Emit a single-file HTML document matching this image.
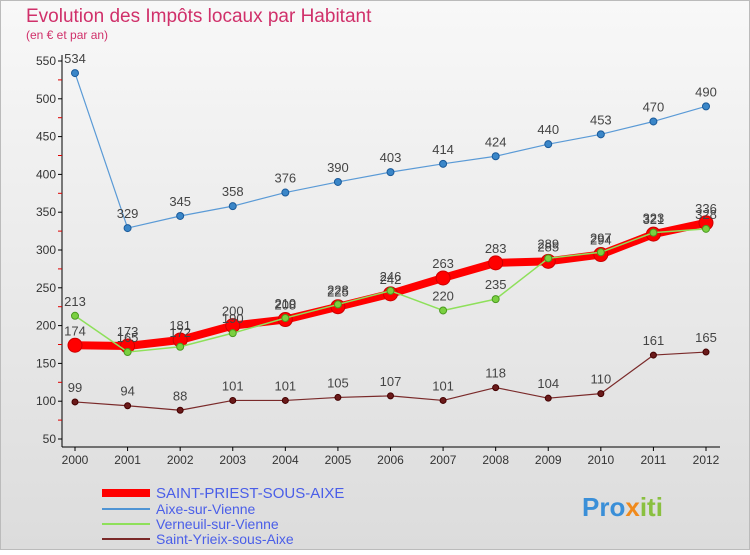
<!DOCTYPE html>
<html><head><meta charset="utf-8">
<style>
body{margin:0;width:750px;height:550px;overflow:hidden;font-family:"Liberation Sans",sans-serif}
svg text{font-family:"Liberation Sans",sans-serif}
</style></head>
<body>
<svg id="chart" width="750" height="550" xmlns="http://www.w3.org/2000/svg">
<defs>
<linearGradient id="bg" x1="0" y1="0" x2="0" y2="1"><stop offset="0" stop-color="#f8f8f8"/><stop offset="1" stop-color="#dcdcdc"/></linearGradient>
</defs>
<rect x="0" y="0" width="750" height="550" fill="url(#bg)"/>
<rect x="0.5" y="0.5" width="749" height="549" fill="none" stroke="#bbb"/>
<text x="26" y="22" font-size="19" fill="#d0306a">Evolution des Impôts locaux par Habitant</text>
<text x="26" y="39" font-size="12" fill="#d0306a">(en € et par an)</text>
<g id="axes"></g>
<g id="series"></g>
<g>
<line x1="102" y1="493" x2="150" y2="493" stroke="#ff0000" stroke-width="8"/>
<text x="156" y="498" font-size="15" fill="#4a5ee8">SAINT-PRIEST-SOUS-AIXE</text>
<line x1="102" y1="509" x2="150" y2="509" stroke="#4f94d4" stroke-width="2"/>
<text x="156" y="514" font-size="14" fill="#4a5ee8">Aixe-sur-Vienne</text>
<line x1="102" y1="524" x2="150" y2="524" stroke="#8ee05a" stroke-width="2"/>
<text x="156" y="529" font-size="14" fill="#4a5ee8">Verneuil-sur-Vienne</text>
<line x1="102" y1="539" x2="150" y2="539" stroke="#7a2a2a" stroke-width="2"/>
<text x="156" y="544" font-size="14" fill="#4a5ee8">Saint-Yrieix-sous-Aixe</text>
</g>
<text x="582" y="516" font-size="26" font-weight="bold" fill="#3a8fd8">Pro<tspan fill="#f08a1c">x</tspan><tspan fill="#8ac040">iti</tspan></text>
</svg>
<script>
const years=[2000,2001,2002,2003,2004,2005,2006,2007,2008,2009,2010,2011,2012];
const yTicks=[50,100,150,200,250,300,350,400,450,500,550];
const aixe=[534,329,345,358,376,390,403,414,424,440,453,470,490];
const verneuil=[213,165,172,190,210,228,246,220,235,289,297,323,328];
const yrieix=[99,94,88,101,101,105,107,101,118,104,110,161,165];
const priest=[174,173,181,200,208,225,242,263,283,285,294,321,336];
const NS="http://www.w3.org/2000/svg";
function X(i){return 75+i*(706-75)/12;}
function Y(v){return 439-(v-50)*(378/500);}
function mk(t,a,p){const e=document.createElementNS(NS,t);for(const k in a)e.setAttribute(k,a[k]);p.appendChild(e);return e;}
const ax=document.getElementById('axes');
const yAxis=mk('line',{x1:62,y1:55,x2:62,y2:447,stroke:'#000','stroke-width':1},ax);


const xAxis=mk('line',{x1:62,y1:447,x2:720,y2:447,stroke:'#000','stroke-width':1},ax);


yTicks.forEach((v,i)=>{
  mk('line',{x1:58,y1:Y(v),x2:62,y2:Y(v),stroke:'#000'},ax);
  if(i<yTicks.length-1) mk('line',{x1:58,y1:Y(v+25),x2:62,y2:Y(v+25),stroke:'#d00'},ax);
  const t=mk('text',{x:56,y:Y(v)+4,'font-size':12,'text-anchor':'end',fill:'#333'},ax);
  t.textContent=v;
  
  
});
years.forEach((yr,i)=>{
  mk('line',{x1:X(i),y1:447,x2:X(i),y2:451,stroke:'#000'},ax);
  const t=mk('text',{x:X(i),y:464,'font-size':12,'text-anchor':'middle',fill:'#333'},ax);
  t.textContent=yr;
  
  
});
const sg=document.getElementById('series');
function series(name,vals,color,w,r,dot,dotStroke){
  const g=mk('g',{},sg);
  
  
  const pl=mk('polyline',{points:vals.map((v,i)=>X(i)+','+Y(v)).join(' '),fill:'none',stroke:color,'stroke-width':w,'stroke-linejoin':'round'},g);
  
  
  vals.forEach((v,i)=>{
    const c=mk('circle',{cx:X(i),cy:Y(v),r:r,fill:dot,stroke:dotStroke,'stroke-width':1},g);
    
    
    const t=mk('text',{x:X(i),y:Y(v)-10,'font-size':13,'text-anchor':'middle',fill:'#444'},g);
    t.textContent=v;
    
    
  });
}
series('saint-yrieix',yrieix,'#7a2a2a',1.2,3,'#6a1a1a','#400');
series('aixe',aixe,'#5a9ad6',1.2,3.5,'#3a86c8','#1a5a9a');
series('saint-priest',priest,'#ff0000',8,7,'#ff0000','#c00');
series('verneuil',verneuil,'#8ee05a',1.5,3.5,'#7ad040','#4a9a20');
</script>
</body></html>
